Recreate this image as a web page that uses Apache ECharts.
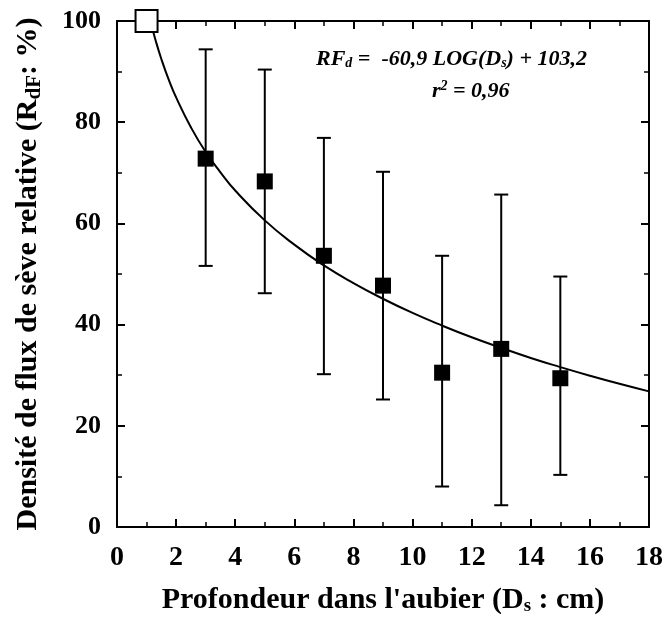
<!DOCTYPE html>
<html>
<head>
<meta charset="utf-8">
<script src="https://cdn.jsdelivr.net/npm/echarts@6/dist/echarts.min.js"></script>
<style>
html,body{margin:0;padding:0;background:#fff;}
#chart{width:665px;height:626px;}
</style>
</head>
<body>
<div id="chart"></div>
<script>
// points mesures (profondeur cm, RdF %)
var depth = [3, 5, 7, 9, 11, 13, 15];
var meanVal = [72.8, 68.3, 53.6, 47.7, 30.5, 35.2, 29.4];
var errLow = [51.6, 46.2, 30.2, 25.2, 8.0, 4.3, 10.3];
var errHigh = [94.4, 90.4, 76.9, 70.2, 53.6, 65.7, 49.5];
// point de reference (1 cm = 100 %)
var refPoint = [[1, 100]];
// courbe d'ajustement
var curveX = [1.13, 1.3, 1.5, 1.75, 2, 2.5, 3, 3.5, 4, 5, 6, 7, 8, 9, 10, 11, 12, 13, 14, 15, 16, 17, 18];
var curveY = [100, 96.3, 92.5, 88.4, 84.9, 79.0, 74.1, 70.1, 66.5, 60.6, 55.8, 51.7, 48.2, 45.1, 42.3, 39.8, 37.5, 35.4, 33.4, 31.6, 29.9, 28.3, 26.8];
var xTicks = [0, 2, 4, 6, 8, 10, 12, 14, 16, 18];
var yTicks = [0, 20, 40, 60, 80, 100];

var serif = 'Liberation Serif';
var chart = echarts.init(document.getElementById('chart'));

var curve = curveX.map(function (x, i) { return [x, curveY[i]]; });
var means = depth.map(function (x, i) { return [x, meanVal[i]]; });
var errs = depth.map(function (x, i) { return [x, errLow[i], errHigh[i]]; });

function boxAxis(pos, isX) {
    return {
        type: 'value',
        position: pos,
        min: 0,
        max: isX ? 18 : 100,
        interval: isX ? 2 : 20,
        axisLine: {show: true, onZero: false, lineStyle: {color: '#000', width: 2}},
        axisTick: {show: true, inside: true, length: 8, lineStyle: {color: '#000', width: 2}},
        minorTick: {show: true, splitNumber: 2, length: 5, lineStyle: {color: '#000', width: 1.5}},
        axisLabel: {show: false},
        splitLine: {show: false}
    };
}

var xTop = boxAxis('top', true);
var yRight = boxAxis('right', false);

var xMain = boxAxis('bottom', true);
xMain.axisLabel = {show: true, margin: 17, color: '#000', fontFamily: serif, fontWeight: 'bold', fontSize: 28,
    formatter: function (v) { return xTicks.indexOf(v) >= 0 ? v : ''; }};
xMain.name = '{t|Profondeur dans l\'aubier (D}{s|s}{t| : cm)}';
xMain.nameLocation = 'middle';
xMain.nameGap = 58;
xMain.nameTextStyle = {rich: {
    t: {fontFamily: serif, fontSize: 30, fontWeight: 'bold', color: '#000'},
    s: {fontFamily: serif, fontSize: 19, fontWeight: 'bold', color: '#000', padding: [12, 0, 0, 0]}
}};

var yMain = boxAxis('left', false);
yMain.axisLabel = {show: true, margin: 16, color: '#000', fontFamily: serif, fontWeight: 'bold', fontSize: 26,
    formatter: function (v) { return yTicks.indexOf(v) >= 0 ? v : ''; }};
yMain.name = '{t|Densité de flux de sève relative (R}{s|dF}{t|: %)}';
yMain.nameLocation = 'middle';
yMain.nameGap = 72;
yMain.nameTextStyle = {rich: {
    t: {fontFamily: serif, fontSize: 30, fontWeight: 'bold', color: '#000'},
    s: {fontFamily: serif, fontSize: 21, fontWeight: 'bold', color: '#000', padding: [12, 0, 0, 0]}
}};

chart.setOption({
    animation: false,
    backgroundColor: '#fff',
    grid: {left: 117, right: 16, top: 21, bottom: 99, outerBoundsMode: 'none', containLabel: false},
    xAxis: [xMain, xTop],
    yAxis: [yMain, yRight],
    graphic: [
        {
            type: 'text', left: 316, top: 48,
            style: {
                text: '{i|RF}{s|d}{i| =  -60,9 LOG(D}{s|s}{i|) + 103,2}',
                rich: {
                    i: {fontFamily: serif, fontSize: 22, fontStyle: 'italic', fontWeight: 'bold', fill: '#000'},
                    s: {fontFamily: serif, fontSize: 14, fontStyle: 'italic', fontWeight: 'bold', fill: '#000', padding: [9, 0, 0, 0]}
                }
            }
        },
        {
            type: 'text', left: 432, top: 79,
            style: {
                text: '{i|r}{p|2}{i| = 0,96}',
                rich: {
                    i: {fontFamily: serif, fontSize: 22, fontStyle: 'italic', fontWeight: 'bold', fill: '#000'},
                    p: {fontFamily: serif, fontSize: 14, fontStyle: 'italic', fontWeight: 'bold', fill: '#000', padding: [0, 0, 10, 0]}
                }
            }
        }
    ],
    series: [
        {
            type: 'line',
            data: curve,
            smooth: true,
            showSymbol: false,
            lineStyle: {color: '#000', width: 2},
            z: 2
        },
        {
            type: 'custom',
            data: errs,
            renderItem: function (params, api) {
                var x = api.value(0);
                var lo = api.coord([x, api.value(1)]);
                var hi = api.coord([x, api.value(2)]);
                var hw = 7;
                var st = {stroke: '#000', lineWidth: 2};
                return {
                    type: 'group',
                    children: [
                        {type: 'line', shape: {x1: lo[0], y1: lo[1], x2: hi[0], y2: hi[1]}, style: st},
                        {type: 'line', shape: {x1: lo[0] - hw, y1: lo[1], x2: lo[0] + hw, y2: lo[1]}, style: st},
                        {type: 'line', shape: {x1: hi[0] - hw, y1: hi[1], x2: hi[0] + hw, y2: hi[1]}, style: st}
                    ]
                };
            },
            z: 3
        },
        {
            type: 'scatter',
            data: means,
            symbol: 'rect',
            symbolSize: 16,
            itemStyle: {color: '#000', opacity: 1},
            z: 4
        },
        {
            type: 'scatter',
            data: refPoint,
            symbol: 'rect',
            symbolSize: 22,
            itemStyle: {color: '#fff', borderColor: '#000', borderWidth: 2, opacity: 1},
            clip: false,
            z: 5
        }
    ]
});
</script>
</body>
</html>
